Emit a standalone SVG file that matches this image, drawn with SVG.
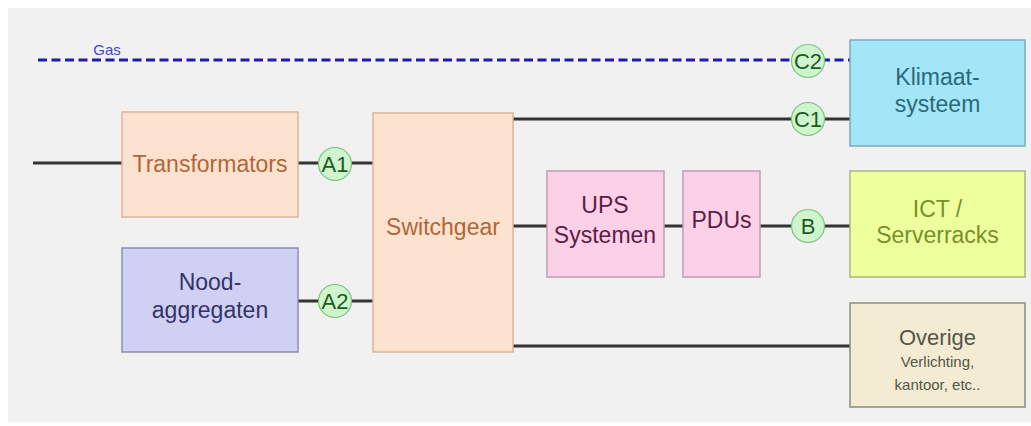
<svg xmlns="http://www.w3.org/2000/svg" width="1031" height="426" viewBox="0 0 1031 426">
<style>
text{font-family:"Liberation Sans",Arial,sans-serif;text-anchor:middle}
.ln{stroke:#333;stroke-width:3;fill:none}
.gas{stroke:#1c1ca6;stroke-width:3;fill:none;stroke-dasharray:9 4.5}
.orange rect{fill:#fde3cf;stroke:#dcb59a;stroke-width:1.5}
.orange text{fill:#b0663a;font-size:23px}
.nood rect{fill:#cfd0f4;stroke:#8d8db0;stroke-width:1.5}
.nood text{fill:#343466;font-size:23px}
.pink rect{fill:#fcd0e6;stroke:#c39cb0;stroke-width:1.5}
.pink text{fill:#5b2046;font-size:23px}
.klim rect{fill:#a3e6f8;stroke:#7aaabb;stroke-width:1.5}
.klim text{fill:#2b6a78;font-size:23px}
.ict rect{fill:#eeff9d;stroke:#a9b282;stroke-width:1.5}
.ict text{fill:#7a8f2c;font-size:23px}
.ov rect{fill:#f3ecd2;stroke:#8c8c82;stroke-width:1.5}
.ov text{fill:#555548}
.pt circle{fill:#cff5cf;stroke:#7cc27c;stroke-width:1.2}
.pt text{fill:#1f5a1f;font-size:22px}
</style>
<rect x="0" y="0" width="1031" height="426" fill="#ffffff"/>
<rect x="8" y="8" width="1023" height="414" fill="#f1f1f1"/>
<g id="connectors">
<line class="gas" x1="38" y1="60" x2="850" y2="60"/>
<text x="107" y="55" style="font-size:15px;fill:#4646c8">Gas</text>
<line class="ln" x1="33" y1="163" x2="122" y2="163"/>
<line class="ln" x1="298" y1="163" x2="373" y2="163"/>
<line class="ln" x1="298" y1="301" x2="373" y2="301"/>
<line class="ln" x1="513" y1="119" x2="850" y2="119"/>
<line class="ln" x1="513" y1="226" x2="547" y2="226"/>
<line class="ln" x1="664" y1="226" x2="683" y2="226"/>
<line class="ln" x1="760" y1="226" x2="850" y2="226"/>
<line class="ln" x1="513" y1="346" x2="850" y2="346"/>
</g>
<g id="transformators" class="orange">
<rect x="122" y="112" width="176" height="105"/>
<text x="210" y="172">Transformators</text>
</g>
<g id="noodaggregaten" class="nood">
<rect x="122" y="248" width="176" height="104"/>
<text x="210" y="290">Nood-</text>
<text x="210" y="318">aggregaten</text>
</g>
<g id="switchgear" class="orange">
<rect x="373" y="113" width="140" height="239"/>
<text x="443" y="235">Switchgear</text>
</g>
<g id="ups" class="pink">
<rect x="547" y="171" width="117" height="106"/>
<text x="605" y="213">UPS</text>
<text x="605" y="243">Systemen</text>
</g>
<g id="pdus" class="pink">
<rect x="683" y="171" width="77" height="106"/>
<text x="721.5" y="228">PDUs</text>
</g>
<g id="klimaat" class="klim">
<rect x="850" y="40" width="175" height="106"/>
<text x="937.5" y="85">Klimaat-</text>
<text x="937.5" y="112">systeem</text>
</g>
<g id="ict" class="ict">
<rect x="850" y="171" width="175" height="106"/>
<text x="937.5" y="217">ICT /</text>
<text x="937.5" y="243">Serverracks</text>
</g>
<g id="overige" class="ov">
<rect x="850" y="303" width="175" height="104"/>
<text x="937.5" y="345" style="font-size:22px">Overige</text>
<text x="937.5" y="367" style="font-size:15px">Verlichting,</text>
<text x="937.5" y="390" style="font-size:15px">kantoor, etc..</text>
</g>
<g id="A1" class="pt"><circle cx="335" cy="164" r="16.5"/><text x="335" y="172">A1</text></g>
<g id="A2" class="pt"><circle cx="335" cy="301" r="16.5"/><text x="335" y="309">A2</text></g>
<g id="C2" class="pt"><circle cx="808" cy="61" r="16.5"/><text x="808" y="69">C2</text></g>
<g id="C1" class="pt"><circle cx="808" cy="119" r="16.5"/><text x="808" y="127">C1</text></g>
<g id="B" class="pt"><circle cx="808" cy="226" r="16.5"/><text x="808" y="234">B</text></g>
</svg>
